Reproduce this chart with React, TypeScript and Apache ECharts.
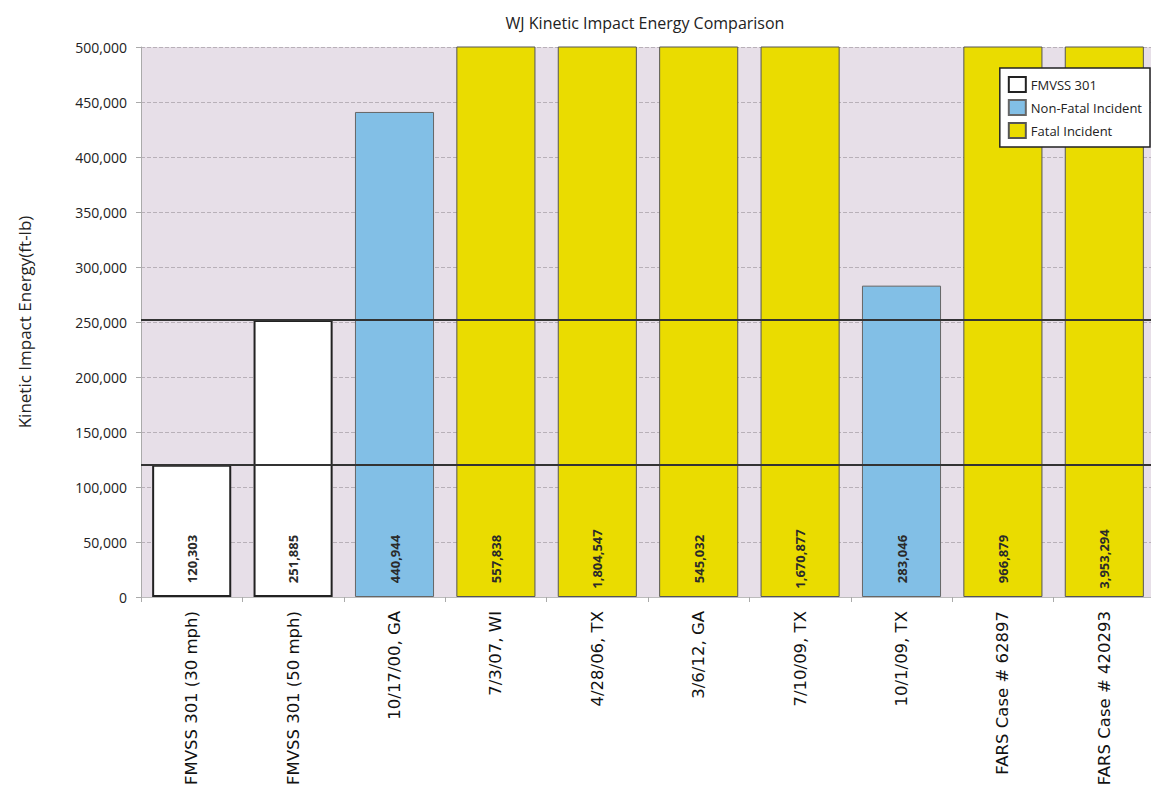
import React, { useEffect, useRef } from "react";
import * as echarts from "echarts";

const categories = [
  "FMVSS 301 (30 mph)",
  "FMVSS 301 (50 mph)",
  "10/17/00, GA",
  "7/3/07, WI",
  "4/28/06, TX",
  "3/6/12, GA",
  "7/10/09, TX",
  "10/1/09, TX",
  "FARS Case # 62897",
  "FARS Case # 420293",
];

const fmvssValues = [120303, 251885, "-", "-", "-", "-", "-", "-", "-", "-"];
const nonFatalValues = ["-", "-", 440944, "-", "-", "-", "-", 283046, "-", "-"];
const fatalValues = ["-", "-", "-", 557838, 1804547, 545032, 1670877, "-", 966879, 3953294];

const referenceLines = [120303, 251885];
const yTicks = { min: 0, max: 500000, interval: 50000 };

const fmt = (v: number) => v.toLocaleString("en-US");

export default function App() {
  const ref = useRef<HTMLDivElement>(null);
  useEffect(() => {
    if (!ref.current) return;
    const chart = echarts.init(ref.current, null, { renderer: "svg" });
    const label = {
      show: true,
      position: "insideBottom",
      distance: 38,
      rotate: 90,
      align: "center",
      verticalAlign: "middle",
      fontFamily: "Open Sans",
      fontWeight: "bold",
      fontSize: 13,
      color: "#2a2a2a",
      formatter: (p: any) => fmt(p.value),
    };
    chart.setOption({
      animation: false,
      backgroundColor: "#ffffff",
      title: {
        text: "WJ Kinetic Impact Energy Comparison",
        left: 632,
        top: 2,
        textAlign: "center",
        textStyle: { fontFamily: "Open Sans", fontWeight: "normal", fontSize: 16, color: "#222" },
      },
      legend: {
        orient: "vertical",
        right: 9,
        top: 60,
        backgroundColor: "#ffffff",
        borderColor: "#222",
        borderWidth: 1.5,
        borderRadius: 0,
        padding: [8, 8, 8, 8],
        itemGap: 6,
        itemWidth: 17,
        itemHeight: 15,
        icon: "rect",
        textStyle: { fontFamily: "Open Sans", fontSize: 13, color: "#222" },
        data: ["FMVSS 301", "Non-Fatal Incident", "Fatal Incident"],
      },
      grid: {
        left: 132,
        right: 4,
        top: 39,
        bottom: 200,
        show: true,
        backgroundColor: "#e7dfe8",
        borderWidth: 0,
      },
      xAxis: {
        type: "category",
        data: categories,
        axisLine: { lineStyle: { color: "#bbb" } },
        axisTick: { show: true, lineStyle: { color: "#aaa" } },
        axisLabel: {
          rotate: 90,
          interval: 0,
          margin: 14,
          fontFamily: "DejaVu Sans",
          fontSize: 16.5,
          color: "#111",
        },
      },
      yAxis: {
        type: "value",
        min: yTicks.min,
        max: yTicks.max,
        interval: yTicks.interval,
        name: "Kinetic Impact Energy(ft-lb)",
        nameLocation: "middle",
        nameGap: 108,
        nameTextStyle: { fontFamily: "Open Sans", fontSize: 17, color: "#222" },
        axisLine: { show: true, lineStyle: { color: "#aaa" } },
        axisTick: { show: true, lineStyle: { color: "#aaa" } },
        axisLabel: {
          fontFamily: "Open Sans",
          fontSize: 14,
          color: "#222",
          margin: 14,
          formatter: (v: number) => fmt(v),
        },
        splitLine: { show: true, lineStyle: { color: "#b8b0b8", type: "dashed" } },
      },
      series: [
        {
          name: "FMVSS 301",
          type: "bar",
          stack: "all",
          barCategoryGap: "22%",
          data: fmvssValues,
          itemStyle: { color: "#ffffff", borderColor: "#222", borderWidth: 2 },
          label,
          markLine: {
            silent: true,
            symbol: "none",
            label: { show: false },
            lineStyle: { color: "#333", width: 2, type: "solid" },
            data: referenceLines.map((v) => ({ yAxis: v })),
            z: 10,
          },
        },
        {
          name: "Non-Fatal Incident",
          type: "bar",
          stack: "all",
          data: nonFatalValues,
          itemStyle: { color: "#82bfe6", borderColor: "#666", borderWidth: 1 },
          label,
        },
        {
          name: "Fatal Incident",
          type: "bar",
          stack: "all",
          data: fatalValues,
          itemStyle: { color: "#eadc00", borderColor: "#555", borderWidth: 1 },
          label,
        },
      ],
    });
    return () => chart.dispose();
  }, []);
  return <div ref={ref} style={{ width: 1151, height: 789 }} />;
}
